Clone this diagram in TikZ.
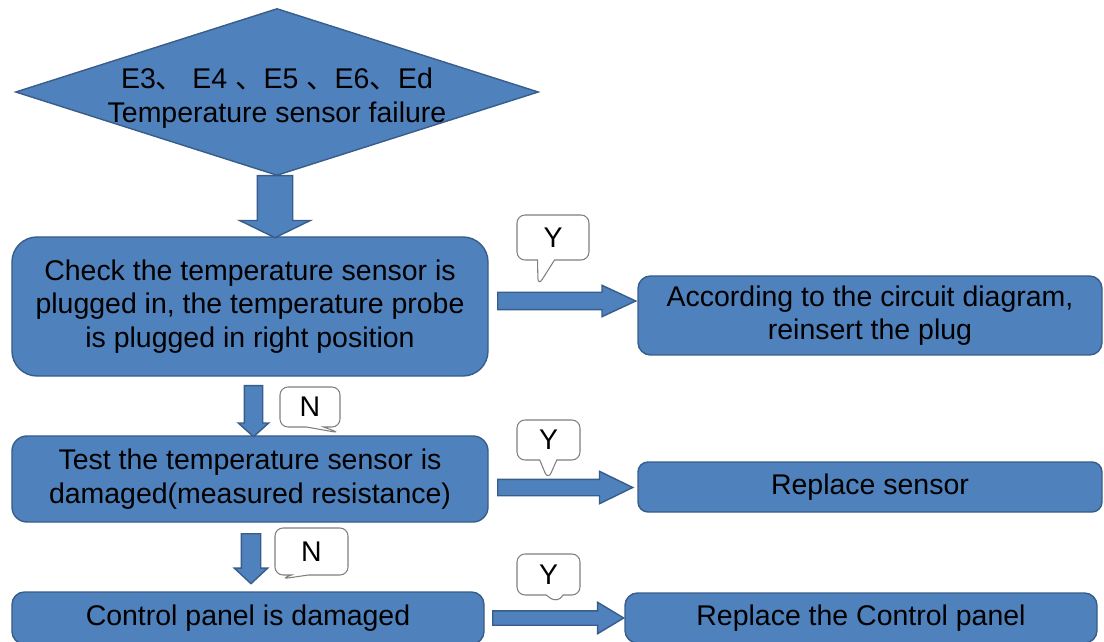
\documentclass[tikz,border=0pt]{standalone}
\usepackage{fontspec}
\setmainfont{Liberation Sans}
\newfontfamily\cjk{Noto Sans CJK SC}
\usetikzlibrary{shapes.geometric,shapes.arrows,shapes.callouts}
\definecolor{boxblue}{HTML}{4F81BD}
\definecolor{edgeblue}{HTML}{385D8A}
\definecolor{tipgray}{HTML}{7F7F7F}

\begin{document}
\begin{tikzpicture}[
  x=0.2mm, y=-0.2mm,
  font=\fontsize{16.2}{19}\selectfont,
  stepbox/.style={draw=edgeblue, fill=boxblue, line width=0.8pt,
                  rounded corners=2.5mm, align=center, inner sep=0pt},
  fault/.style={draw=edgeblue, fill=boxblue, line width=0.8pt,
                diamond, inner sep=0pt,
                minimum width=104.6mm, minimum height=33.4mm},
  blockarrow/.style={draw=edgeblue, fill=boxblue, line width=0.8pt,
                     single arrow, inner xsep=0pt, anchor=tail,
                     single arrow head indent=0pt},
  answer/.style={draw=tipgray, fill=white, line width=0.6pt,
                 rectangle callout, rounded corners=1.6mm,
                 callout pointer width=3.4mm, inner sep=0pt},
]
\useasboundingbox (0,0) rectangle (1104,642);
\clip (0,0) rectangle (1104,642);

% fault code at the top
\node[fault] (failure) at (277,92) {};
\node[align=center, inner sep=0pt] (failuretext) at (277,98)
  {E3{\cjk 、} E4 {\cjk 、}E5 {\cjk 、}E6{\cjk 、}Ed\\
   Temperature sensor failure};

% left column: the checks
\node[stepbox, rounded corners=5mm, minimum width=95.2mm, minimum height=27.8mm]
  (plugcheck) at (250,306.5)
  {Check the temperature sensor is\\
   plugged in, the temperature probe\\
   is plugged in right position};
\node[stepbox, rounded corners=3mm, minimum width=95.2mm, minimum height=17.2mm]
  (sensortest) at (250,479)
  {Test the temperature sensor is\\ damaged(measured resistance)};
\node[stepbox, minimum width=94.4mm, minimum height=10.4mm]
  (paneldamaged) at (248,618) {Control panel is damaged};

% right column: the repairs
\node[stepbox, minimum width=92.8mm, minimum height=15.8mm]
  (reinsert) at (870,315.5)
  {According to the circuit diagram,\\ reinsert the plug};
\node[stepbox, rounded corners=2mm, minimum width=92.8mm, minimum height=10mm]
  (newsensor) at (870,487) {Replace sensor};
\node[stepbox, minimum width=94.4mm, minimum height=10mm]
  (newpanel) at (861,618) {Replace the Control panel};

% block arrows (placed by their tails)
\node[blockarrow, rotate=-90, minimum height=12.4mm, inner ysep=3.4mm,
      single arrow head extend=3.5mm, single arrow tip angle=128]
  (down0) at (275,175) {};
\node[blockarrow, rotate=-90, minimum height=10.2mm, inner ysep=1.7mm,
      single arrow head extend=1.2mm, single arrow tip angle=96]
  (down1) at (253.5,385) {};
\node[blockarrow, rotate=-90, minimum height=10mm, inner ysep=1.8mm,
      single arrow head extend=1.4mm, single arrow tip angle=94]
  (down2) at (251,533) {};
\node[blockarrow, minimum height=27.6mm, inner ysep=1.6mm,
      single arrow head extend=1.4mm, single arrow tip angle=50]
  (yes1) at (497,301) {};
\node[blockarrow, minimum height=27mm, inner ysep=1.5mm,
      single arrow head extend=1.6mm, single arrow tip angle=52]
  (yes2) at (497,487.5) {};
\node[blockarrow, minimum height=26.2mm, inner ysep=1.3mm,
      single arrow head extend=1.7mm, single arrow tip angle=62]
  (yes3) at (492,618) {};

% answer bubbles
\node[answer, minimum width=14.4mm, minimum height=9mm,
      callout absolute pointer={(538,286)}] (tipy1) at (553,237.5) {Y};
\node[answer, minimum width=12mm, minimum height=8mm,
      callout absolute pointer={(340,433)}] (tipn1) at (310,407) {N};
\node[answer, minimum width=12.6mm, minimum height=8mm,
      callout absolute pointer={(548,480)}] (tipy2) at (548.5,440) {Y};
\node[answer, minimum width=14.6mm, minimum height=9.4mm,
      callout absolute pointer={(281,579)}] (tipn2) at (311.5,551.5) {N};
\node[answer, minimum width=12.6mm, minimum height=8.2mm,
      callout absolute pointer={(557,603)}] (tipy3) at (548.5,574.5) {Y};
\end{tikzpicture}
\end{document}
